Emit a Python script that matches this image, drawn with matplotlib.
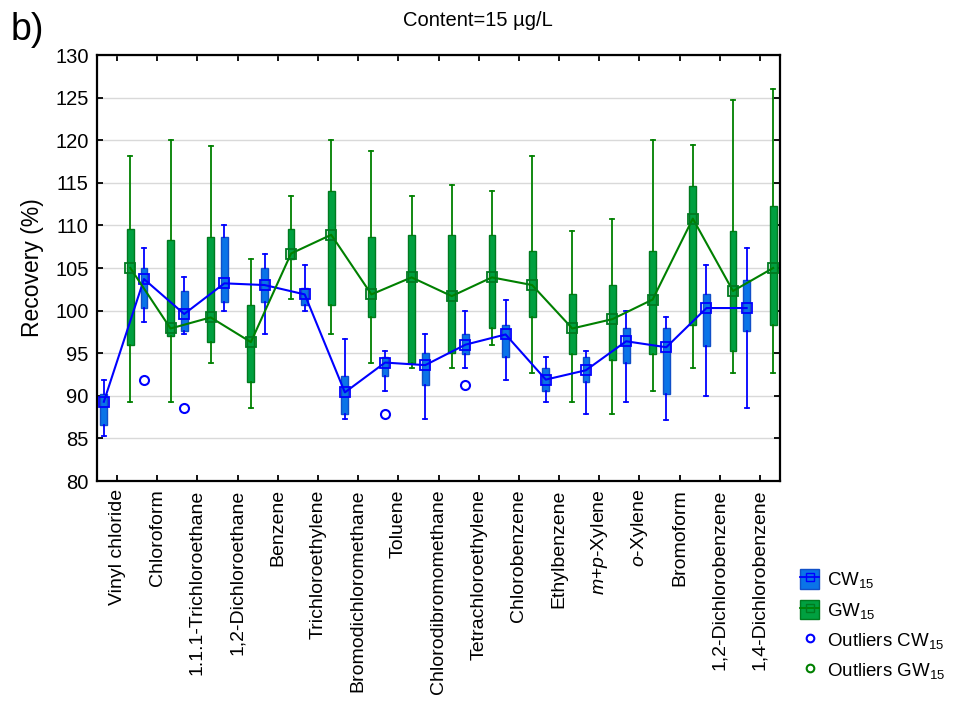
import numpy as np
import matplotlib.pyplot as plt
from matplotlib.patches import Patch
from matplotlib.lines import Line2D

plt.rcParams['font.family'] = ['Liberation Sans', 'DejaVu Sans']
plt.rcParams['mathtext.fontset'] = 'custom'
plt.rcParams['mathtext.rm'] = 'Liberation Sans'
plt.rcParams['mathtext.it'] = 'Liberation Sans:italic'

compounds = ['Vinyl chloride', 'Chloroform', '1.1.1-Trichloroethane', '1,2-Dichloroethane',
             'Benzene', 'Trichloroethylene', 'Bromodichloromethane', 'Toluene',
             'Chlorodibromomethane', 'Tetrachloroethylene', 'Chlorobenzene', 'Ethylbenzene',
             r'$m$+$p$-Xylene', r'$o$-Xylene', 'Bromoform', '1,2-Dichlorobenzene',
             '1,4-Dichlorobenzene']

# CW15 : median, 25%, 75%, whisker low, whisker high
cw_med = [89.3, 103.7, 99.6, 103.2, 103.0, 101.9, 90.4, 93.9, 93.6, 96.0, 97.2, 91.9, 93.0, 96.4, 95.7, 100.3, 100.3]
cw_q1 = [86.6, 100.3, 97.6, 101.0, 101.0, 100.7, 87.9, 92.3, 91.3, 94.9, 94.6, 90.6, 91.6, 93.9, 90.2, 95.9, 97.6]
cw_q3 = [90.2, 105.0, 102.3, 108.6, 105.0, 102.7, 92.3, 94.5, 95.0, 97.3, 98.3, 93.3, 94.6, 97.9, 97.9, 102.0, 103.6]
cw_lo = [85.3, 98.7, 97.3, 99.9, 97.3, 99.9, 87.3, 90.6, 87.3, 93.3, 91.9, 89.3, 87.9, 89.3, 87.2, 90.0, 88.6]
cw_hi = [91.9, 107.4, 104.0, 110.0, 106.7, 105.4, 96.7, 95.3, 97.3, 100.0, 101.3, 94.6, 95.3, 100.0, 99.3, 105.4, 107.4]
cw_out = {1: [91.9], 2: [88.6], 7: [87.9], 9: [91.3]}

# GW15
gw_med = [105.0, 97.9, 99.2, 96.3, 106.7, 108.9, 101.9, 103.9, 101.7, 103.9, 103.0, 97.9, 99.0, 101.3, 110.8, 102.3, 105.0]
gw_q1 = [96.0, 97.0, 96.3, 91.6, 106.0, 100.7, 99.2, 93.9, 95.0, 97.9, 99.3, 94.9, 94.2, 94.9, 98.3, 95.3, 98.3]
gw_q3 = [109.6, 108.3, 108.6, 100.7, 109.6, 114.0, 108.6, 108.9, 108.9, 108.9, 107.0, 102.0, 103.0, 107.0, 114.6, 109.3, 112.3]
gw_lo = [89.3, 89.3, 93.9, 88.6, 101.4, 97.3, 93.9, 93.3, 93.3, 96.0, 92.7, 89.3, 87.9, 90.6, 93.3, 92.7, 92.7]
gw_hi = [118.1, 120.0, 119.3, 106.0, 113.4, 120.0, 118.7, 113.4, 114.7, 114.0, 118.1, 109.3, 110.7, 120.0, 119.4, 124.7, 126.0]
gw_out = {}


def make_stats(med, q1, q3, lo, hi, out):
    stats = []
    for i in range(len(med)):
        stats.append({'med': med[i], 'q1': q1[i], 'q3': q3[i],
                      'whislo': lo[i], 'whishi': hi[i],
                      'fliers': out.get(i, [])})
    return stats


fig = plt.figure(figsize=(9.56, 7.02), dpi=100)
ax = fig.add_axes([97 / 956, 1 - 481 / 702, 683 / 956, 426 / 702])

x = np.arange(len(compounds))
off = 0.33
series = [
    (cw_med, cw_q1, cw_q3, cw_lo, cw_hi, cw_out, x - off, '#0a74e8', '#1050c8', '#0000ff', '#0000ff'),
    (gw_med, gw_q1, gw_q3, gw_lo, gw_hi, gw_out, x + off, '#00a040', '#007a20', '#008000', '#007a20'),
]

for med, q1, q3, lo, hi, out, pos, fill, edge, line, mark in series:
    ax.bxp(make_stats(med, q1, q3, lo, hi, out), positions=pos, widths=0.17,
           capwidths=0.1, patch_artist=True, manage_ticks=False,
           boxprops=dict(facecolor=fill, edgecolor=edge, linewidth=1.0),
           whiskerprops=dict(color=line, linewidth=1.3),
           capprops=dict(color=line, linewidth=1.3),
           medianprops=dict(linewidth=0),
           flierprops=dict(marker='o', markerfacecolor='none', markeredgecolor=line,
                           markeredgewidth=1.5, markersize=6.5),
           zorder=3)
    ax.plot(pos, med, color=line, linewidth=1.5, marker='s', markersize=7.5,
            markerfacecolor='none', markeredgecolor=mark, markeredgewidth=1.3, zorder=4)

ax.set_xlim(-0.5, len(compounds) - 0.5)
ax.set_ylim(80, 130)
ax.set_yticks(np.arange(80, 131, 5))
ax.set_xticks(x)
ax.set_xticklabels(compounds, rotation=90, fontsize=14)
ax.tick_params(axis='y', labelsize=14.5)
ax.tick_params(direction='in', length=4, width=1.3, top=True, right=True, pad=6)
ax.yaxis.grid(True, color='#d9d9d9', linewidth=1.0, zorder=0)
ax.set_axisbelow(True)
for sp in ax.spines.values():
    sp.set_linewidth(1.6)

ax.set_ylabel('Recovery (%)', fontsize=16.5, labelpad=8)
fig.text(478 / 956, 1 - 20 / 702, 'Content=15 µg/L', ha='center', va='center', fontsize=14.5)
fig.text(11 / 956, 1 - 30 / 702, 'b)', ha='left', va='center', fontsize=27)

h_cw = (Patch(facecolor='#0a74e8', edgecolor='#1050c8'),
        Line2D([], [], color='#0000ff', lw=1.3, marker='s', markersize=6,
               markerfacecolor='none', markeredgecolor='#0000ff'))
h_gw = (Patch(facecolor='#00a040', edgecolor='#007a20'),
        Line2D([], [], color='#008000', lw=1.3, marker='s', markersize=6,
               markerfacecolor='none', markeredgecolor='#007a20'))
h_ocw = Line2D([], [], linestyle='none', marker='o', markersize=5.5,
               markerfacecolor='none', markeredgecolor='#0000ff', markeredgewidth=1.5)
h_ogw = Line2D([], [], linestyle='none', marker='o', markersize=5.5,
               markerfacecolor='none', markeredgecolor='#008000', markeredgewidth=1.5)
fig.legend([h_cw, h_gw, h_ocw, h_ogw],
           [r'CW$_{15}$', r'GW$_{15}$', r'Outliers CW$_{15}$', r'Outliers GW$_{15}$'],
           loc='upper left', bbox_to_anchor=(791 / 956, 1 - 560 / 702), frameon=False,
           fontsize=13.5, handlelength=1.0, handleheight=1.2, handletextpad=0.4,
           labelspacing=0.5, borderpad=0)

fig.savefig('out.png', dpi=100)
